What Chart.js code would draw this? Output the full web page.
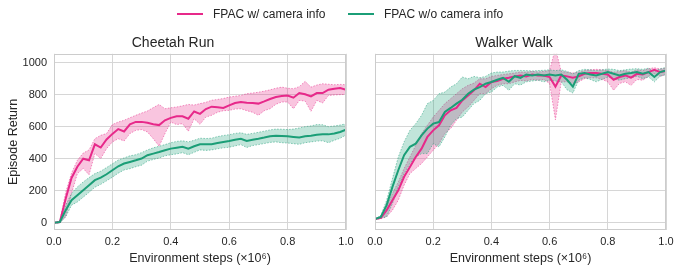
<!DOCTYPE html>
<html>
<head>
<meta charset="utf-8">
<script src="https://cdn.jsdelivr.net/npm/chart.js@4.4.1/dist/chart.umd.min.js"></script>
<style>
  body { margin: 0; background: #fff; font-family: "Liberation Sans", Arial, sans-serif; }
  #wrap { position: relative; width: 675px; height: 266px; overflow: hidden; }
  canvas { position: absolute; top: 0; }
  #legend { position: absolute; top: 7px; left: 177px; font-size: 12px; color: #262626; white-space: nowrap; }
  .item { position: absolute; top: 0; line-height: 14px; }
  .swatch { position: absolute; top: 6px; width: 26px; height: 0; border-top: 2px solid; }
  .item span.txt { position: absolute; left: 36px; top: 0; }
</style>
</head>
<body>
<div id="wrap">
  <canvas id="cheetah" width="362" height="266" style="left:0"></canvas>
  <canvas id="walker" width="313" height="266" style="left:362px"></canvas>
  <div id="legend">
    <div class="item" style="left:0"><div class="swatch" style="border-color:#e7298a"></div><span class="txt">FPAC w/ camera info</span></div>
    <div class="item" style="left:171px"><div class="swatch" style="border-color:#1b9e77"></div><span class="txt">FPAC w/o camera info</span></div>
  </div>
</div>
<script>
const PINK = '#e7298a';
const GREEN = '#1b9e77';
const FONT = '"Liberation Sans", Arial, sans-serif';

const steps = [0.00, 0.02, 0.04, 0.06, 0.08, 0.10, 0.12, 0.14, 0.16, 0.18,
               0.20, 0.22, 0.24, 0.26, 0.28, 0.30, 0.32, 0.34, 0.36, 0.38,
               0.40, 0.42, 0.44, 0.46, 0.48, 0.50, 0.52, 0.54, 0.56, 0.58,
               0.60, 0.62, 0.64, 0.66, 0.68, 0.70, 0.72, 0.74, 0.76, 0.78,
               0.80, 0.82, 0.84, 0.86, 0.88, 0.90, 0.92, 0.94, 0.96, 0.98, 1.00];

const xTicks = [0, 0.2, 0.4, 0.6, 0.8, 1.0];
const yTicks = [0, 200, 400, 600, 800, 1000];

// Cheetah Run, with camera info
const cheetahWithMean = [0, 5, 150, 280, 350, 400, 390, 490, 470, 520,
                         555, 585, 570, 615, 630, 630, 625, 615, 610, 640,
                         655, 665, 665, 650, 695, 680, 710, 725, 722, 717,
                         733, 748, 754, 750, 748, 744, 758, 773, 785, 791,
                         795, 781, 810, 802, 789, 810, 810, 831, 837, 841, 831];
const cheetahWithHigh = [0, 10, 190, 310, 390, 435, 455, 525, 546, 557,
                         613, 629, 640, 656, 671, 685, 698, 719, 739, 712,
                         718, 723, 730, 739, 735, 744, 752, 765, 770, 776,
                         785, 790, 795, 806, 810, 815, 822, 830, 840, 847,
                         840, 837, 850, 883, 847, 860, 868, 865, 862, 864, 862];
const cheetahWithLow = [0, 0, 37, 183, 307, 339, 300, 432, 401, 463,
                        505, 525, 511, 557, 577, 582, 567, 525, 478, 557,
                        629, 613, 619, 571, 650, 615, 660, 671, 690, 700,
                        702, 710, 712, 700, 690, 671, 700, 712, 740, 754,
                        754, 712, 764, 760, 696, 764, 748, 795, 798, 800, 802];

// Cheetah Run, without camera info
const cheetahWithoutMean = [0, 5, 79, 141, 172, 203, 235, 266, 282, 303,
                            328, 353, 370, 380, 390, 401, 422, 432, 442, 453,
                            463, 469, 474, 463, 478, 490, 490, 490, 498, 505,
                            511, 519, 525, 511, 519, 525, 532, 540, 544, 542,
                            540, 536, 532, 540, 544, 550, 552, 552, 557, 567, 582];
const cheetahWithoutHigh = [0, 10, 110, 183, 224, 255, 282, 307, 322, 345,
                            368, 392, 405, 418, 425, 438, 455, 468, 478, 488,
                            500, 508, 512, 505, 515, 528, 526, 528, 538, 545,
                            550, 558, 562, 552, 558, 565, 572, 580, 585, 584,
                            582, 585, 592, 600, 605, 613, 612, 600, 605, 610, 618];
const cheetahWithoutLow = [0, 0, 37, 110, 130, 160, 190, 222, 240, 262,
                           285, 310, 330, 338, 350, 360, 385, 395, 405, 418,
                           425, 430, 438, 425, 440, 455, 452, 455, 462, 468,
                           472, 480, 488, 470, 482, 488, 495, 502, 505, 500,
                           498, 494, 490, 500, 505, 510, 512, 500, 515, 528, 548];

// Walker Walk, with camera info
const walkerWithMean = [23, 31, 79, 141, 203, 287, 349, 411, 463, 536,
                        577, 609, 671, 702, 717, 764, 795, 827, 868, 847,
                        879, 885, 899, 906, 914, 920, 914, 926, 920, 920,
                        910, 850, 920, 914, 906, 914, 930, 935, 935, 930,
                        926, 893, 910, 920, 906, 930, 926, 941, 955, 941, 947];
const walkerWithHigh = [25, 40, 100, 183, 255, 339, 411, 484, 557, 609,
                        660, 702, 744, 775, 806, 837, 858, 872, 899, 899,
                        914, 920, 926, 930, 935, 941, 940, 945, 942, 945,
                        950, 1090, 945, 940, 935, 940, 950, 955, 958, 955,
                        950, 940, 945, 950, 940, 955, 950, 962, 968, 960, 965];
const walkerWithLow = [20, 25, 37, 79, 141, 235, 307, 339, 370, 411,
                       453, 494, 557, 588, 640, 692, 723, 764, 806, 806,
                       837, 858, 868, 868, 879, 889, 885, 895, 890, 895,
                       870, 643, 880, 880, 870, 880, 900, 905, 905, 895,
                       880, 827, 870, 880, 858, 895, 890, 915, 930, 915, 925];

// Walker Walk, without camera info
const walkerWithoutMean = [23, 37, 110, 224, 328, 422, 474, 494, 546, 588,
                           619, 629, 692, 717, 744, 768, 806, 831, 847, 868,
                           879, 893, 905, 880, 915, 905, 926, 920, 926, 920,
                           926, 920, 926, 893, 850, 930, 935, 926, 920, 930,
                           941, 930, 920, 930, 935, 941, 930, 941, 910, 941, 951];
const walkerWithoutHigh = [23, 45, 141, 276, 411, 505, 577, 619, 671, 744,
                           764, 806, 816, 847, 868, 910, 899, 914, 906, 914,
                           935, 941, 941, 947, 951, 951, 950, 948, 950, 952,
                           955, 950, 955, 945, 930, 950, 958, 955, 950, 955,
                           960, 958, 950, 955, 960, 962, 958, 965, 945, 962, 970];
const walkerWithoutLow = [23, 30, 37, 120, 224, 307, 370, 411, 432, 432,
                          494, 474, 536, 609, 650, 660, 702, 744, 764, 806,
                          816, 847, 858, 827, 868, 860, 880, 885, 890, 880,
                          890, 885, 880, 830, 810, 890, 905, 895, 880, 895,
                          910, 900, 890, 900, 905, 915, 900, 910, 880, 915, 925];

function pts(arr) {
    return steps.map((x, i) => ({ x: x, y: arr[i] }));
}

function rgba(hex, a) {
    const n = parseInt(hex.slice(1), 16);
    return `rgba(${(n >> 16) & 255}, ${(n >> 8) & 255}, ${n & 255}, ${a})`;
}

function bandSets(high, low, color, order) {
    const edge = {
        borderColor: rgba(color, 0.5),
        borderWidth: 1,
        borderDash: [1.5, 1.5],
        pointRadius: 0,
        tension: 0,
        order: order
    };
    return [
        Object.assign({ data: pts(high), fill: '+1', backgroundColor: rgba(color, 0.27) }, edge),
        Object.assign({ data: pts(low), fill: false }, edge)
    ];
}

function meanSet(arr, color, order) {
    return {
        data: pts(arr),
        borderColor: color,
        borderWidth: 2,
        pointRadius: 0,
        tension: 0,
        fill: false,
        order: order
    };
}

// light grey frame round the plot area, like the seaborn spines
const framePlugin = {
    id: 'frame',
    afterDatasetsDraw(chart) {
        const a = chart.chartArea;
        const ctx = chart.ctx;
        ctx.save();
        ctx.strokeStyle = '#cccccc';
        ctx.lineWidth = 1;
        ctx.strokeRect(Math.round(a.left) + 0.5, Math.round(a.top) + 0.5,
                       Math.round(a.right - a.left) - 1, Math.round(a.bottom - a.top) - 1);
        ctx.restore();
    }
};

function makeChart(id, title, series, showY, yWidth, rightPad) {
    const datasets = [
        ...bandSets(series.withHigh, series.withLow, PINK, 4),
        ...bandSets(series.withoutHigh, series.withoutLow, GREEN, 3),
        meanSet(series.withMean, PINK, 1),
        meanSet(series.withoutMean, GREEN, 0)
    ];
    return new Chart(document.getElementById(id), {
        type: 'line',
        data: { datasets: datasets },
        plugins: [framePlugin],
        options: {
            responsive: false,
            animation: false,
            events: [],
            layout: { padding: { top: 28, right: rightPad, bottom: 0, left: 0 } },
            plugins: {
                legend: { display: false },
                tooltip: { enabled: false },
                title: {
                    display: true,
                    text: title,
                    color: '#262626',
                    font: { family: FONT, size: 14, weight: 'normal' },
                    padding: { top: 7, bottom: 2 }
                }
            },
            scales: {
                x: {
                    type: 'linear',
                    min: 0,
                    max: 1,
                    afterBuildTicks: s => { s.ticks = xTicks.map(v => ({ value: v })); },
                    afterFit: s => { s.height = 36; s.paddingLeft = 0; s.paddingRight = 0; },
                    grid: { color: '#d6d6d6', drawTicks: false },
                    border: { display: false },
                    ticks: {
                        padding: 5,
                        maxRotation: 0,
                        color: '#262626',
                        font: { family: FONT, size: 11 },
                        callback: v => v.toFixed(1)
                    },
                    title: {
                        display: true,
                        text: 'Environment steps (×10⁶)',
                        color: '#262626',
                        font: { family: FONT, size: 12.5 },
                        padding: { top: 0, bottom: 0 }
                    }
                },
                y: {
                    min: -45,
                    max: 1055,
                    afterBuildTicks: s => { s.ticks = yTicks.map(v => ({ value: v })); },
                    afterFit: s => { s.width = yWidth; s.paddingTop = 0; s.paddingBottom = 0; },
                    grid: { color: '#d6d6d6', drawTicks: false },
                    border: { display: false },
                    ticks: {
                        display: showY,
                        padding: 7,
                        color: '#262626',
                        font: { family: FONT, size: 11 },
                        callback: v => String(v)
                    },
                    title: {
                        display: showY,
                        text: 'Episode Return',
                        color: '#262626',
                        font: { family: FONT, size: 12.5 },
                        padding: { top: 6, bottom: 0 }
                    }
                }
            }
        }
    });
}

makeChart('cheetah', 'Cheetah Run', {
    withMean: cheetahWithMean, withHigh: cheetahWithHigh, withLow: cheetahWithLow,
    withoutMean: cheetahWithoutMean, withoutHigh: cheetahWithoutHigh, withoutLow: cheetahWithoutLow
}, true, 54, 16);

makeChart('walker', 'Walker Walk', {
    withMean: walkerWithMean, withHigh: walkerWithHigh, withLow: walkerWithLow,
    withoutMean: walkerWithoutMean, withoutHigh: walkerWithoutHigh, withoutLow: walkerWithoutLow
}, false, 13, 9);
</script>
</body>
</html>
